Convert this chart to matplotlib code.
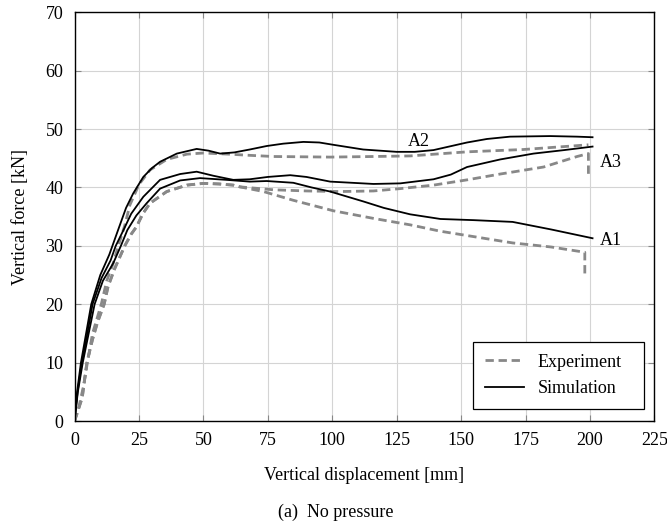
import matplotlib
matplotlib.use("Agg")
import matplotlib.pyplot as plt

# simulation curves (displacement mm, force kN)
a1_sim_x = [0, 1.3, 3.2, 5.5, 7.8, 11, 15, 18, 20.5, 24, 28, 33.2, 41, 48.7, 59, 68, 74.6, 84.9, 92, 99.2,
            112.1, 120, 130.2, 142, 155, 170, 185, 201]
a1_sim_y = [0, 5, 10, 15, 20, 24, 27, 30, 32.7, 35.2, 37.3, 39.8, 41.2, 41.6, 41.3, 41, 41.1, 40.8, 40, 39.3,
            37.6, 36.5, 35.4, 34.6, 34.4, 34.1, 32.8, 31.3]

a2_sim_x = [0, 1, 2.5, 4.5, 6.5, 10, 13.5, 16.9, 20, 22.8, 26.7, 30, 33.2, 39.7, 47.4, 52, 56.5, 62, 68, 74.6,
            81, 88.8, 95, 100.5, 112, 125, 132, 139.3, 152.3, 160, 169, 184.6, 195, 201]
a2_sim_y = [0, 5, 10, 15, 20, 25, 28.5, 32.7, 36.5, 39, 41.8, 43.3, 44.4, 45.8, 46.6, 46.3, 45.8, 46, 46.5, 47.1,
            47.5, 47.8, 47.7, 47.3, 46.5, 46.1, 46.1, 46.4, 47.7, 48.3, 48.7, 48.8, 48.7, 48.6]

a3_sim_x = [0, 1.2, 2.8, 5, 7, 10.5, 14, 16, 19, 22, 26.7, 33.2, 41, 47.4, 53.9, 61.6, 68, 75, 83.7, 90,
            99.2, 116, 126.4, 139.3, 146, 152.3, 165.2, 178.1, 190, 201]
a3_sim_y = [0, 5, 10, 15, 20, 24.5, 27.5, 30, 32.7, 35.5, 38.4, 41.3, 42.3, 42.7, 42, 41.3, 41.4, 41.8, 42.1, 41.8,
            41, 40.6, 40.7, 41.4, 42.2, 43.5, 44.8, 45.8, 46.4, 47]

# experiment curves
a2_exp_x = [0, 1.5, 3.5, 5, 7, 10.4, 12.5, 15, 17, 19.5, 21.5, 25, 29.3, 35.8, 43.6, 50, 60, 68, 77.2, 99.2,
            116, 130.2, 152.3, 174.2, 199.4]
a2_exp_y = [0, 2, 6, 10, 15, 20, 24, 27, 30, 33.5, 37, 40.5, 43, 44.8, 45.7, 45.9, 45.7, 45.5, 45.3, 45.2,
            45.3, 45.4, 46.1, 46.5, 47.3]

a3_exp_x = [0, 1.5, 3, 4.8, 7, 9, 11.5, 13, 15.5, 17.5, 19.5, 22, 24.1, 26.5, 29.3, 35.8, 43.6, 50, 56, 61.6,
            64.2, 77.2, 90.1, 103, 116, 126.4, 139.3, 152.3, 165.2, 182, 195, 199.4, 199.4]
a3_exp_y = [0, 2, 4, 10, 14, 17, 20, 23, 26, 28, 30, 32, 33.3, 35.5, 37.3, 39.3, 40.4, 40.7, 40.6, 40.4,
            40.1, 39.6, 39.4, 39.3, 39.4, 39.8, 40.4, 41.3, 42.3, 43.5, 45.3, 45.8, 42.1]

a1_exp_x = [0, 1.5, 3, 4.8, 7, 9, 11.5, 13, 15.5, 17.5, 19.5, 22, 24.1, 26.5, 29.3, 35.8, 43.6, 50, 56, 61.6,
            64.2, 73.3, 84.9, 100.5, 116, 130.2, 142, 170, 185, 198, 198]
a1_exp_y = [0, 2, 4, 10, 14, 17, 20, 23, 26, 28, 30, 32, 33.3, 35.5, 37.3, 39.3, 40.4, 40.7, 40.6, 40.4,
            40.1, 39.3, 37.8, 36, 34.7, 33.6, 32.5, 30.5, 29.8, 28.9, 24.5]

labels = ["A1", "A2", "A3"]
label_x = [204, 133.5, 204]
label_y = [30.9, 47.8, 44.3]

plt.rcParams['font.family'] = ['Liberation Serif', 'DejaVu Serif']
plt.rcParams['font.size'] = 13

fig = plt.figure(figsize=(6.67, 5.27), dpi=100)
ax = fig.add_axes([0.1117, 0.2011, 0.8694, 0.7756])

exp_style = dict(color="#888888", lw=2.0, dashes=(3.0, 1.7))
sim_style = dict(color="black", lw=1.3)

ax.plot(a1_exp_x, a1_exp_y, label="Experiment", **exp_style)
ax.plot(a2_exp_x, a2_exp_y, **exp_style)
ax.plot(a3_exp_x, a3_exp_y, **exp_style)
ax.plot(a1_sim_x, a1_sim_y, label="Simulation", **sim_style)
ax.plot(a2_sim_x, a2_sim_y, **sim_style)
ax.plot(a3_sim_x, a3_sim_y, **sim_style)

for t, x, y in zip(labels, label_x, label_y):
    ax.text(x, y, t, ha="left" if t != "A2" else "center", va="center")

ax.set_xlim(0, 225)
ax.set_ylim(0, 70)
ax.set_xticks(range(0, 226, 25))
ax.set_yticks(range(0, 71, 10))
ax.grid(True, color="#d4d4d4", lw=0.8)
ax.set_axisbelow(True)
ax.tick_params(direction="in", length=4, color="#888888", top=True, right=True, pad=8, labelsize=13)
for s in ax.spines.values():
    s.set_linewidth(1.0)

ax.set_xlabel("Vertical displacement [mm]", labelpad=13)
ax.set_ylabel("Vertical force [kN]", labelpad=12)

leg = ax.legend(loc="lower left", bbox_to_anchor=(0.687, 0.029, 0.295, 0.16), mode="expand",
                borderaxespad=0, fancybox=False, framealpha=1, edgecolor="black",
                handlelength=2.2, handletextpad=0.75, borderpad=0.65, labelspacing=0.55)
leg.get_frame().set_linewidth(0.9)

fig.text(0.504, 0.027, "(a)  No pressure", ha="center", va="center")

fig.savefig("out.png", dpi=100)
